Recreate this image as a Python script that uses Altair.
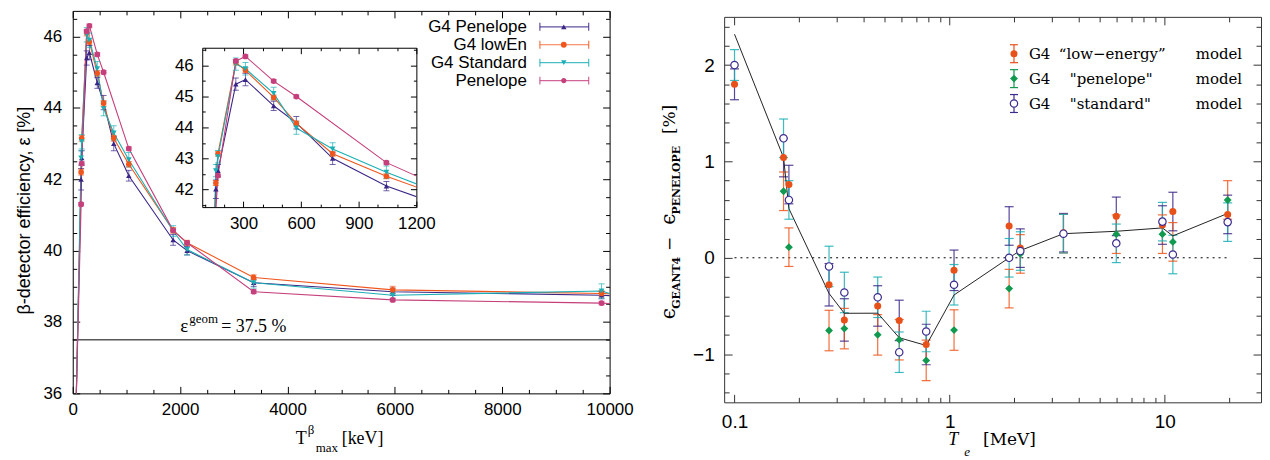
import altair as alt
import pandas as pd

# ----------------------------- left panel data -----------------------------
series_names = ["G4 Penelope", "G4 lowEn", "G4 Standard", "Penelope"]
series_colors = ["#3b2686", "#f0561c", "#1aafb5", "#c53f7c"]
series_shapes = ["triangle-up", "circle", "triangle-down", "circle"]
series_sizes = [30, 34, 30, 26]

t_max_kev = [67, 156, 167, 260, 310, 457, 575, 764, 1044, 1870, 2130, 3370, 5960, 9850, 11000]
eff_g4_penelope = [25.0, 42.0, 42.6, 45.4, 45.55, 44.7, 44.15, 43.0, 42.1, 40.3, 40.0, 39.1, 38.85, 38.75, 38.74]
err_g4_penelope = [0.0, 0.3, 0.2, 0.2, 0.2, 0.15, 0.2, 0.2, 0.15, 0.15, 0.12, 0.1, 0.1, 0.1, 0.0]
eff_g4_lowen = [25.0, 42.2, 43.15, 46.1, 45.85, 44.97, 44.13, 43.15, 42.42, 40.57, 40.22, 39.25, 38.9, 38.8, 38.79]
err_g4_lowen = [0.0, 0.08, 0.08, 0.08, 0.08, 0.08, 0.08, 0.08, 0.08, 0.08, 0.07, 0.07, 0.1, 0.08, 0.0]
eff_g4_standard = [25.0, 42.6, 43.05, 46.05, 45.9, 45.1, 43.98, 43.3, 42.55, 40.55, 40.03, 39.1, 38.75, 38.87, 38.8]
err_g4_standard = [0.0, 0.2, 0.2, 0.2, 0.2, 0.2, 0.2, 0.2, 0.2, 0.15, 0.15, 0.15, 0.1, 0.2, 0.0]
eff_penelope = [25.0, 41.3, 42.44, 46.15, 46.3, 45.5, 45.0, None, 42.86, 40.57, 40.22, 38.85, 38.62, 38.53, 38.52]
err_penelope = [0.0, 0.05, 0.05, 0.05, 0.05, 0.05, 0.05, 0.0, 0.05, 0.05, 0.05, 0.05, 0.05, 0.05, 0.0]
geom_efficiency = [37.5]

# ----------------------------- right panel data -----------------------------
model_names = ["low-energy", "penelope", "standard"]
model_colors = ["#e8501a", "#11994f", "#3d2b8f"]
energy_mev = [0.1, 0.169, 0.179, 0.275, 0.324, 0.463, 0.583, 0.778, 1.048, 1.89, 2.13, 3.38, 5.95, 9.75, 10.9, 19.6]
diff_lowenergy = [1.80, 1.04, 0.76, -0.28, -0.645, -0.50, -0.65, -0.90, -0.13, 0.33, 0.10, 0.26, 0.43, 0.34, 0.48, 0.45]
err_lowenergy = [0.16, 0.2, 0.2, 0.22, 0.22, 0.21, 0.21, 0.21, 0.21, 0.2, 0.2, 0.2, 0.2, 0.2, 0.2, 0.2]
diff_penelope = [None, 0.69, 0.11, -0.755, -0.735, -0.80, -0.85, -1.065, -0.75, -0.32, 0.04, 0.25, 0.245, 0.245, 0.165, 0.60]
err_penelope_model = [0.0, 0.2, 0.2, 0.21, 0.21, 0.21, 0.21, 0.21, 0.21, 0.2, 0.2, 0.2, 0.2, 0.2, 0.2, 0.2]
diff_standard = [2.00, 1.24, 0.60, -0.09, -0.36, -0.41, -0.98, -0.765, -0.28, 0.0, 0.07, 0.25, 0.15, 0.375, 0.034, 0.37]
err_standard = [0.16, 0.2, 0.2, 0.21, 0.21, 0.21, 0.21, 0.21, 0.21, 0.2, 0.2, 0.2, 0.2, 0.2, 0.2, 0.2]
reference_curve = [2.32, 1.04, 0.51, -0.37, -0.576, -0.575, -0.83, -0.91, -0.386, 0.0, 0.075, 0.25, 0.275, 0.31, 0.227, 0.46]
zero_line_range = [0.1, 20.0]

# ----------------------------- tables -----------------------------
rows = []
for name, vals, errs in zip(series_names,
                            [eff_g4_penelope, eff_g4_lowen, eff_g4_standard, eff_penelope],
                            [err_g4_penelope, err_g4_lowen, err_g4_standard, err_penelope]):
    for x, v, e in zip(t_max_kev, vals, errs):
        if v is None:
            continue
        rows.append(dict(x=x, y=v, lo=v - e, hi=v + e, series=name))
left_df = pd.DataFrame(rows)

rrows = []
for name, vals, errs in zip(model_names,
                            [diff_lowenergy, diff_penelope, diff_standard],
                            [err_lowenergy, err_penelope_model, err_standard]):
    for x, v, e in zip(energy_mev, vals, errs):
        if v is None:
            continue
        rrows.append(dict(x=x, y=v, lo=v - e, hi=v + e, model=name))
right_df = pd.DataFrame(rrows)
ref_df = pd.DataFrame({"x": energy_mev, "y": reference_curve})
zero_df = pd.DataFrame({"x": [zero_line_range[0]], "x2": [zero_line_range[1]], "y": [0.0]})
geom_df = pd.DataFrame({"y": geom_efficiency})
DUMMY = pd.DataFrame({"k": [0]})


# ----------------------------- helpers -----------------------------
def txt(s, x, y, size, font="Liberation Serif", align="left", baseline="alphabetic",
        angle=0, style="normal", weight="normal", color="black"):
    return alt.Chart(DUMMY).mark_text(
        text=s, font=font, fontSize=size, align=align, baseline=baseline, angle=angle,
        fontStyle=style, fontWeight=weight, color=color
    ).encode(x=alt.value(x), y=alt.value(y))


def tick_axis(orient, values, offset, test, domain=False, color="black", major=7, minor=4):
    return alt.Axis(orient=orient, offset=offset, values=values, labels=False, domain=domain,
                    domainColor=color, domainWidth=1, tickColor=color, tickWidth=1,
                    tickSize={"condition": {"test": test, "value": major}, "value": minor},
                    grid=False, title=None)


def label_axis(orient, values, offset, pad, size, color="black", **kw):
    a = dict(orient=orient, offset=offset, values=values, ticks=False, tickSize=0,
             labelPadding=pad, labelFont="Liberation Sans", labelFontSize=size,
             labelColor="black", labelFlush=False, labelOverlap=False,
             domain=True, domainColor=color, domainWidth=1, grid=False)
    a.update(kw)
    if "title" not in a:
        a["title"] = None
    return alt.Axis(**a)


def axis_layers(df, xs, ys, specs):
    out = []
    for xa, ya in specs:
        out.append(alt.Chart(df).mark_point(opacity=0, clip=True).encode(
            x=alt.X("x:Q", scale=xs, axis=xa), y=alt.Y("y:Q", scale=ys, axis=ya)))
    return out


def series_layers(df, xs, ys, cap, clip, keep=None):
    color = alt.Color("series:N", scale=alt.Scale(domain=series_names, range=series_colors), legend=None)
    X = alt.X("x:Q", scale=xs, axis=None)
    base = alt.Chart(df)
    vis = base.transform_filter(keep) if keep else base
    return [
        base.mark_line(clip=clip, strokeWidth=1.1).encode(
            x=X, y=alt.Y("y:Q", scale=ys, axis=None), color=color),
        vis.mark_rule(clip=clip, strokeWidth=1, opacity=0.7).encode(
            x=X, y=alt.Y("lo:Q", scale=ys, axis=None), y2="hi:Q", color=color),
        vis.mark_tick(clip=clip, orient="horizontal", size=cap, thickness=1, opacity=0.7).encode(
            x=X, y=alt.Y("lo:Q", scale=ys, axis=None), color=color),
        vis.mark_tick(clip=clip, orient="horizontal", size=cap, thickness=1, opacity=0.7).encode(
            x=X, y=alt.Y("hi:Q", scale=ys, axis=None), color=color),
        vis.mark_point(clip=clip, filled=True, opacity=1).encode(
            x=X, y=alt.Y("y:Q", scale=ys, axis=None), color=color,
            shape=alt.Shape("series:N", scale=alt.Scale(domain=series_names, range=series_shapes), legend=None),
            size=alt.Size("series:N", scale=alt.Scale(domain=series_names, range=series_sizes), legend=None)),
    ]


# ----------------------------- main left panel -----------------------------
# the main panel's own cell is only as wide as the gap left of the inset;
# its x scale range spans the full frame width.
MW, MH = 539, 384
CELL_W = 130
xs_main = alt.Scale(domain=[0, 10000], range=[0, MW], nice=False, zero=False, clamp=True)
ys_main = alt.Scale(domain=[36, 46.72], nice=False, zero=False, clamp=True)
main_xticks = list(range(0, 10001, 500))
main_yticks = [36 + 0.5 * i for i in range(22)]

main_layers = []
main_layers += axis_layers(left_df, xs_main, ys_main, [
    (label_axis("bottom", [0, 2000, 4000, 6000, 8000, 10000], 0, 8, 17, format="d"),
     label_axis("left", [36, 38, 40, 42, 44, 46], 0, 11, 17,
                title="β-detector efficiency, ε [%]", titleFont="Liberation Sans",
                titleFontSize=18, titleFontWeight="normal", titlePadding=10, titleColor="black",
                titleY=200)),
    (tick_axis("top", main_xticks, -MH, "datum.value % 2000 === 0"),
     tick_axis("right", main_yticks, -CELL_W, "datum.value % 2 === 0")),
    (tick_axis("bottom", main_xticks, -MH, "datum.value % 2000 === 0", domain=True),
     tick_axis("left", main_yticks, -MW, "datum.value % 2 === 0", domain=True)),
])
main_layers.append(alt.Chart(geom_df).mark_rule(color="black", strokeWidth=1).encode(
    x=alt.value(0), x2=alt.value(MW), y=alt.Y("y:Q", scale=ys_main, axis=None)))
main_layers += series_layers(left_df, xs_main, ys_main, 6, False,
                             keep="datum.x <= 10000 && datum.y >= 36")

# annotation eps_geom
main_layers += [
    txt("ε", 108, 322, 19),
    txt("geom", 117, 313, 13),
    txt("= 37.5 %", 149, 322, 18),
    # x-axis title T^beta_max [keV]
    txt("T", 224, 435, 18),
    txt("β", 236, 425, 13),
    txt("max", 244, 443, 13),
    txt("[keV]", 270, 435, 18),
]

# legend (left)
legend_rows_y = [16, 34, 52, 70]
for name, col, shp, sz, ry in zip(series_names, series_colors, series_shapes, series_sizes, legend_rows_y):
    main_layers.append(txt(name, 456, ry, 17, font="Liberation Sans", align="right", baseline="middle"))
    main_layers.append(alt.Chart(DUMMY).mark_rule(color=col, strokeWidth=1.2, opacity=0.8).encode(
        x=alt.value(469), x2=alt.value(518), y=alt.value(ry)))
    for cx in (469, 518):
        main_layers.append(alt.Chart(DUMMY).mark_rule(color=col, strokeWidth=1.2, opacity=0.8).encode(
            x=alt.value(cx), y=alt.value(ry - 4), y2=alt.value(ry + 4)))
    main_layers.append(alt.Chart(DUMMY).mark_point(color=col, filled=True, opacity=1, shape=shp, size=sz).encode(
        x=alt.value(493), y=alt.value(ry)))

main = alt.layer(*main_layers).resolve_axis(x="independent", y="independent").properties(width=CELL_W, height=MH)

# ----------------------------- inset -----------------------------
IW, IH, ITOP = 215, 197, 37
xs_in = alt.Scale(domain=[85, 1200], nice=False, zero=False)
ys_in = alt.Scale(domain=[41.42, 46.58], range=[IH, ITOP], nice=False, zero=False)
in_xticks = list(range(100, 1201, 100))
in_yticks = [41.5 + 0.5 * i for i in range(11)]
inset_layers = []
inset_layers += axis_layers(left_df, xs_in, ys_in, [
    (label_axis("bottom", [300, 600, 900, 1200], 0, 8, 17, format="d"),
     label_axis("left", [42, 43, 44, 45, 46], 0, 9, 17)),
    (tick_axis("top", in_xticks, -IH, "datum.value % 300 === 0", major=6, minor=3),
     tick_axis("right", in_yticks, -IW, "datum.value % 1 === 0", major=6, minor=3)),
    (tick_axis("bottom", in_xticks, -(IH - ITOP), "datum.value % 300 === 0", domain=True, major=6, minor=3),
     tick_axis("left", in_yticks, -IW, "datum.value % 1 === 0", domain=True, major=6, minor=3)),
])
inset_layers += series_layers(left_df, xs_in, ys_in, 6, True)
inset = alt.layer(*inset_layers).resolve_axis(x="independent", y="independent").properties(width=IW, height=IH)

# ----------------------------- right panel -----------------------------
RW, RH, RTOP, RLEFT = 848, 393, 6, 309
xs_r = alt.Scale(type="log", domain=[0.0895, 28], range=[RLEFT, RW], nice=False)
ys_r = alt.Scale(domain=[-1.5, 2.5], range=[RH, RTOP], nice=False, zero=False)
r_xticks = [round(0.1 * k, 1) for k in range(1, 10)] + list(range(1, 10)) + [10, 20]
r_yticks = [round(-1.4 + 0.2 * i, 1) for i in range(20)]
log_test = "abs(log(datum.value)/LN10 - round(log(datum.value)/LN10)) < 0.01"
int_test = "abs(datum.value - round(datum.value)) < 0.01"
FR = "#333333"

right_layers = []
right_layers += axis_layers(right_df, xs_r, ys_r, [
    (label_axis("bottom", [0.1, 1, 10], 0, 10, 19, color=FR, format="~g"),
     label_axis("left", [-1, 0, 1, 2], -RLEFT, 10, 19, color=FR)),
    (tick_axis("top", r_xticks, -RH, log_test, color=FR, major=8, minor=5),
     tick_axis("right", r_yticks, -(RW - RLEFT), int_test, color=FR, major=8, minor=5)),
    (tick_axis("bottom", r_xticks, -(RH - RTOP), log_test, domain=True, color=FR, major=8, minor=5),
     tick_axis("left", r_yticks, -RW, int_test, domain=True, color=FR, major=8, minor=5)),
])

RX = alt.X("x:Q", scale=xs_r, axis=None)
rcolor = alt.Color("model:N", scale=alt.Scale(domain=model_names, range=model_colors), legend=None)
right_layers.append(alt.Chart(zero_df).mark_rule(color="black", strokeWidth=1, strokeDash=[2, 4]).encode(
    x=RX, x2="x2:Q", y=alt.Y("y:Q", scale=ys_r, axis=None)))
rbase = alt.Chart(right_df)
right_layers += [
    rbase.mark_rule(strokeWidth=1.2, opacity=0.85).encode(
        x=RX, y=alt.Y("lo:Q", scale=ys_r, axis=None), y2="hi:Q", color=rcolor),
    rbase.mark_tick(orient="horizontal", size=9, thickness=1.2, opacity=0.85).encode(
        x=RX, y=alt.Y("lo:Q", scale=ys_r, axis=None), color=rcolor),
    rbase.mark_tick(orient="horizontal", size=9, thickness=1.2, opacity=0.85).encode(
        x=RX, y=alt.Y("hi:Q", scale=ys_r, axis=None), color=rcolor),
]
right_layers.append(alt.Chart(ref_df).mark_line(color="#222222", strokeWidth=1).encode(
    x=RX, y=alt.Y("y:Q", scale=ys_r, axis=None)))
right_layers += [
    rbase.transform_filter(alt.datum.model == "low-energy").mark_point(
        shape="circle", filled=True, color=model_colors[0], size=50, opacity=1).encode(
        x=RX, y=alt.Y("y:Q", scale=ys_r, axis=None)),
    rbase.transform_filter(alt.datum.model == "penelope").mark_point(
        shape="diamond", filled=True, color=model_colors[1], size=62, opacity=1).encode(
        x=RX, y=alt.Y("y:Q", scale=ys_r, axis=None)),
    rbase.transform_filter(alt.datum.model == "standard").mark_point(
        shape="circle", filled=True, fill="white", stroke=model_colors[2], strokeWidth=1.2,
        size=55, opacity=1).encode(x=RX, y=alt.Y("y:Q", scale=ys_r, axis=None)),
]

# right legend (positions relative to this cell)
r_leg_y = [43, 68, 93]
r_leg_quoted = ["\u201clow\u2212energy\u201d", "\"penelope\"", "\"standard\""]
r_leg_qx = [645, 656, 656]
LSX = 600
for i, (col, ry) in enumerate(zip(model_colors, r_leg_y)):
    right_layers.append(alt.Chart(DUMMY).mark_rule(color=col, strokeWidth=1.2).encode(
        x=alt.value(LSX), y=alt.value(ry - 9), y2=alt.value(ry + 9)))
    for cy in (ry - 9, ry + 9):
        right_layers.append(alt.Chart(DUMMY).mark_rule(color=col, strokeWidth=1.2).encode(
            x=alt.value(LSX - 4), x2=alt.value(LSX + 4), y=alt.value(cy)))
    if i == 0:
        mk = alt.Chart(DUMMY).mark_point(shape="circle", filled=True, color=col, size=50, opacity=1)
    elif i == 1:
        mk = alt.Chart(DUMMY).mark_point(shape="diamond", filled=True, color=col, size=62, opacity=1)
    else:
        mk = alt.Chart(DUMMY).mark_point(shape="circle", filled=True, fill="white", stroke=col,
                                         strokeWidth=1.2, size=55, opacity=1)
    right_layers.append(mk.encode(x=alt.value(LSX), y=alt.value(ry)))
    right_layers.append(txt("G4", 615, ry, 15, font="DejaVu Serif", baseline="middle"))
    right_layers.append(txt(r_leg_quoted[i], r_leg_qx[i], ry, 15, font="DejaVu Serif", baseline="middle"))
    right_layers.append(txt("model", 829, ry, 15, font="DejaVu Serif", align="right", baseline="middle"))

# right axis titles
right_layers += [
    txt("T", 534, 436, 18, style="italic"),
    txt("e", 550, 447, 13, style="italic"),
    txt("[MeV]", 569, 436, 17, font="DejaVu Serif"),
    txt("ϵ", 254, 304, 20, font="DejaVu Serif", align="center", baseline="middle", angle=270),
    txt("GEANT4", 262, 273, 11, font="DejaVu Serif", align="center", baseline="middle", angle=270, weight="bold"),
    txt("\u2212", 255, 234, 17, font="DejaVu Serif", align="center", baseline="middle", angle=270),
    txt("ϵ", 254, 209, 20, font="DejaVu Serif", align="center", baseline="middle", angle=270),
    txt("PENELOPE", 262, 170, 11, font="DejaVu Serif", align="center", baseline="middle", angle=270, weight="bold"),
    txt("[%]", 255, 109, 17, font="DejaVu Serif", align="center", baseline="middle", angle=270),
]

right = alt.layer(*right_layers).resolve_axis(x="independent", y="independent").properties(width=RW, height=RH)

chart = alt.hconcat(main, inset, right, spacing=0, bounds="flush").configure_view(
    strokeWidth=0).properties(padding={"left": 7, "top": 1, "right": 0, "bottom": 0})

chart.save("out.html", embed_options={"renderer": "svg", "actions": False})
